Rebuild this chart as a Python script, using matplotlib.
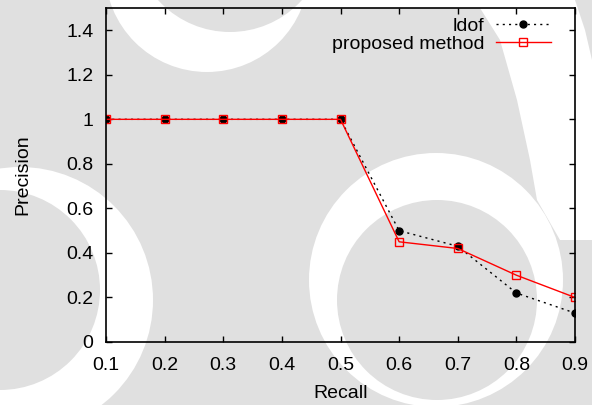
import matplotlib
matplotlib.use("Agg")
from matplotlib import pyplot as plt
from matplotlib.patches import Circle, Polygon
from matplotlib.ticker import FuncFormatter

recall = [0.1, 0.2, 0.3, 0.4, 0.5, 0.6, 0.7, 0.8, 0.9]
ldof = [1.0, 1.0, 1.0, 1.0, 1.0, 0.50, 0.43, 0.22, 0.13]
proposed = [1.0, 1.0, 1.0, 1.0, 1.0, 0.45, 0.42, 0.30, 0.20]
y_ticks = [0, 0.2, 0.4, 0.6, 0.8, 1.0, 1.2, 1.4]

plt.rcParams['font.family'] = ['Liberation Sans', 'DejaVu Sans']
plt.rcParams['font.size'] = 14

W, H = 592, 405
GREY = '#e0e0e0'
fig = plt.figure(figsize=(W / 100, H / 100), dpi=100)

# Watermark-ish background (pixel coords): grey sheet, white crescents
bg = fig.add_axes([0, 0, 1, 1], zorder=-10)
bg.set_xlim(0, W)
bg.set_ylim(H, 0)
bg.axis('off')
bg.add_patch(plt.Rectangle((0, 0), W, H, facecolor=GREY, edgecolor='none'))
bg.add_patch(plt.Rectangle((300, 0), 275, 8, facecolor='white', edgecolor='none'))
bg.add_patch(Polygon([(475, 0), (500, 40), (517, 100), (530, 160), (537, 200), (560, 240),
                      (592, 240), (592, 60), (585, 30), (575, 0)],
                     facecolor='white', edgecolor='none'))
# (white outer circle, grey inner disc) pairs
for (wx, wy, wr), (gx, gy, gr) in [((207, -30, 102), (230, -65, 97)),
                                    ((436, 280, 127), (437, 300, 100)),
                                    ((20, 300, 133), (0, 290, 100))]:
    bg.add_patch(Circle((wx, wy), wr, facecolor='white', edgecolor='none'))
    bg.add_patch(Circle((gx, gy), gr, facecolor=GREY, edgecolor='none'))

# Main plot
ax = fig.add_axes([106 / W, 1 - 342 / H, (575 - 106) / W, (342 - 8) / H])
ax.patch.set_alpha(0)

ax.plot(recall, ldof, color='black', linestyle=(0, (1.5, 3)), linewidth=1,
        marker='o', markersize=5, label='ldof')
ax.plot(recall, proposed, color='red', linestyle='-', linewidth=1,
        marker='s', markersize=6, markerfacecolor='none', markeredgewidth=1, label='proposed method')

ax.set_xlim(0.1, 0.9)
ax.set_ylim(0, 1.5)
ax.set_xticks(recall)
ax.set_yticks(y_ticks)
ax.yaxis.set_major_formatter(FuncFormatter(lambda v, p: f"{v:g}"))
ax.xaxis.set_major_formatter(FuncFormatter(lambda v, p: f"{v:g}"))

ax.tick_params(direction='in', length=4.5, width=1, top=True, right=True)
ax.tick_params(axis='y', pad=9)
ax.tick_params(axis='x', pad=11)
for sp in ax.spines.values():
    sp.set_linewidth(1.2)

ax.set_xlabel('Recall', labelpad=8)
ax.set_ylabel('Precision', labelpad=25)

ax.legend(loc='upper right', bbox_to_anchor=(0.973, 1.008), frameon=False, markerfirst=False,
          numpoints=1, handlelength=2.8, handletextpad=0.6, labelspacing=0.05, borderaxespad=0.2)

fig.savefig('out.png', dpi=100)
